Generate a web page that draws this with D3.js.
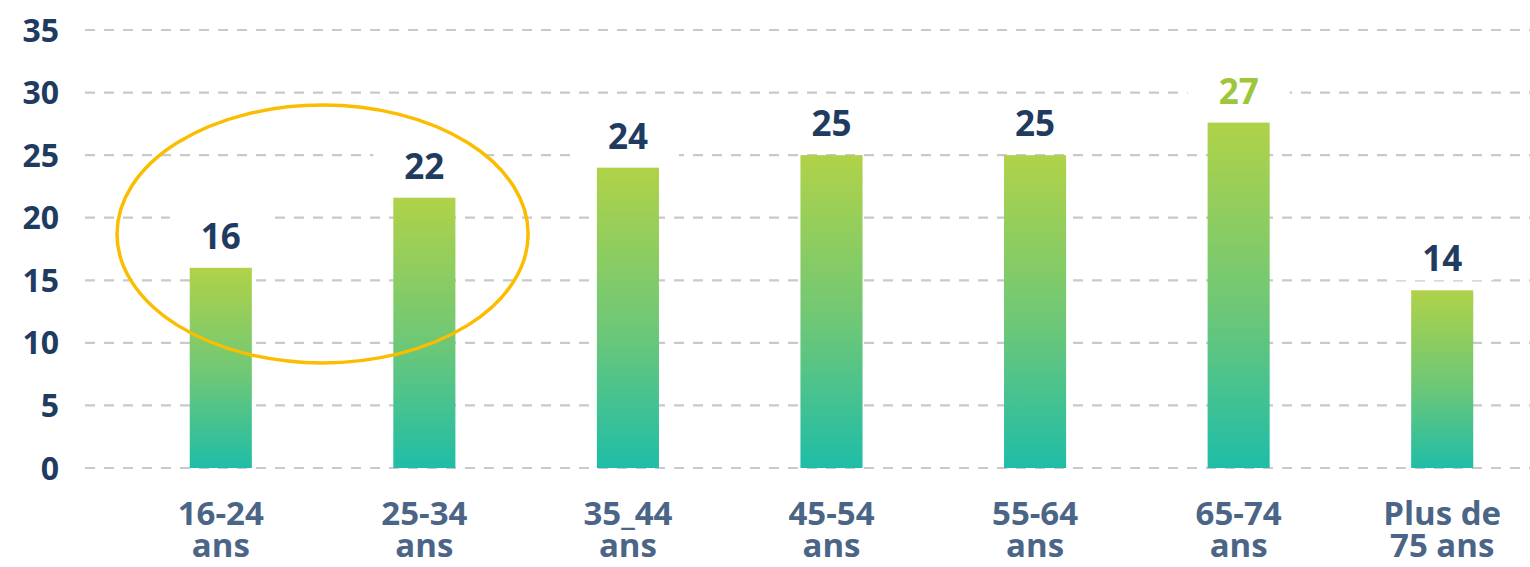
<!DOCTYPE html>
<html>
<head>
<meta charset="utf-8">
<script src="https://cdn.jsdelivr.net/npm/d3@7"></script>
<style>
  body { margin: 0; background: #fff; }
  text { font-family: "Open Sans", sans-serif; font-weight: 700; }
</style>
</head>
<body>
<div id="chart"></div>
<script>
// data
const ageLine1 = ["16-24", "25-34", "35_44", "45-54", "55-64", "65-74", "Plus de"];
const ageLine2 = ["ans", "ans", "ans", "ans", "ans", "ans", "75 ans"];
const values = [16, 21.6, 24, 25, 25, 27.6, 14.2];
const valueLabels = ["16", "22", "24", "25", "25", "27", "14"];
const yTicks = [0, 5, 10, 15, 20, 25, 30, 35];
// circled groups (first two) - ellipse centre and half height in chart units
const circled = [0, 1];
const circleMid = 18.7;
const circleHalf = 10.3;

const width = 1530, height = 567;
const margin = { top: 30, bottom: 99, gridLeft: 85 };

const svg = d3.select("#chart")
  .append("svg")
  .attr("width", width)
  .attr("height", height);

const x = d3.scaleBand()
  .domain(d3.range(values.length))
  .range([119, 1544])
  .paddingInner(0.695)
  .paddingOuter(0.3475);

const y = d3.scaleLinear()
  .domain([0, 35])
  .range([height - margin.bottom, margin.top]);

// gradient for bars, top green-yellow to teal
const grad = svg.append("defs")
  .append("linearGradient")
  .attr("id", "barGrad")
  .attr("x1", 0).attr("y1", 0)
  .attr("x2", 0).attr("y2", 1);
grad.append("stop").attr("offset", "0%").attr("stop-color", "#b0d248");
grad.append("stop").attr("offset", "55%").attr("stop-color", "#6cc778");
grad.append("stop").attr("offset", "100%").attr("stop-color", "#1fbda8");

// grid lines
svg.append("g")
  .selectAll("line")
  .data(yTicks)
  .enter()
  .append("line")
  .attr("x1", margin.gridLeft)
  .attr("x2", width)
  .attr("y1", d => y(d))
  .attr("y2", d => y(d))
  .attr("stroke", "#c9c9c9")
  .attr("stroke-width", 2.2)
  .attr("stroke-dasharray", "10,9");

// y tick labels
svg.append("g")
  .selectAll("text")
  .data(yTicks)
  .enter()
  .append("text")
  .attr("x", 59)
  .attr("y", d => y(d))
  .attr("dy", "0.36em")
  .attr("text-anchor", "end")
  .attr("fill", "#1f3b60")
  .style("font-size", "32px")
  .text(d => d);

// bars
svg.append("g")
  .selectAll("rect")
  .data(values)
  .enter()
  .append("rect")
  .attr("x", (d, i) => x(i))
  .attr("y", d => y(d))
  .attr("width", x.bandwidth())
  .attr("height", d => y(0) - y(d))
  .attr("fill", "url(#barGrad)");

// value labels with a white box behind (hides the grid line)
const lab = svg.append("g")
  .selectAll("g")
  .data(values)
  .enter()
  .append("g")
  .attr("transform", (d, i) => `translate(${x(i) + x.bandwidth() / 2},${y(d) - 19})`);

lab.append("rect")
  .attr("x", -51)
  .attr("y", -33)
  .attr("width", 102)
  .attr("height", 42)
  .attr("fill", "#fff");

lab.append("text")
  .attr("text-anchor", "middle")
  .attr("fill", (d, i) => i == 5 ? "#9cc63b" : "#1f3b60")
  .style("font-size", "35px")
  .text((d, i) => valueLabels[i]);

// x labels, two lines (tight like the original)
const xl = svg.append("g")
  .selectAll("text")
  .data(ageLine1)
  .enter()
  .append("text")
  .attr("text-anchor", "middle")
  .attr("fill", "#4b6587")
  .style("font-size", "33px");

xl.append("tspan")
  .attr("x", (d, i) => x(i) + x.bandwidth() / 2)
  .attr("y", 525)
  .text(d => d);
xl.append("tspan")
  .attr("x", (d, i) => x(i) + x.bandwidth() / 2)
  .attr("y", 557)
  .text((d, i) => ageLine2[i]);

// yellow ellipse round the first two groups
const c0 = x(circled[0]) + x.bandwidth() / 2;
const c1 = x(circled[1]) + x.bandwidth() / 2;
svg.append("ellipse")
  .attr("cx", (c0 + c1) / 2)
  .attr("cy", y(circleMid))
  .attr("rx", x.step() + 2)
  .attr("ry", y(0) - y(circleHalf))
  .attr("fill", "none")
  .attr("stroke", "#fbbd00")
  .attr("stroke-width", 3.5);
</script>
</body>
</html>
